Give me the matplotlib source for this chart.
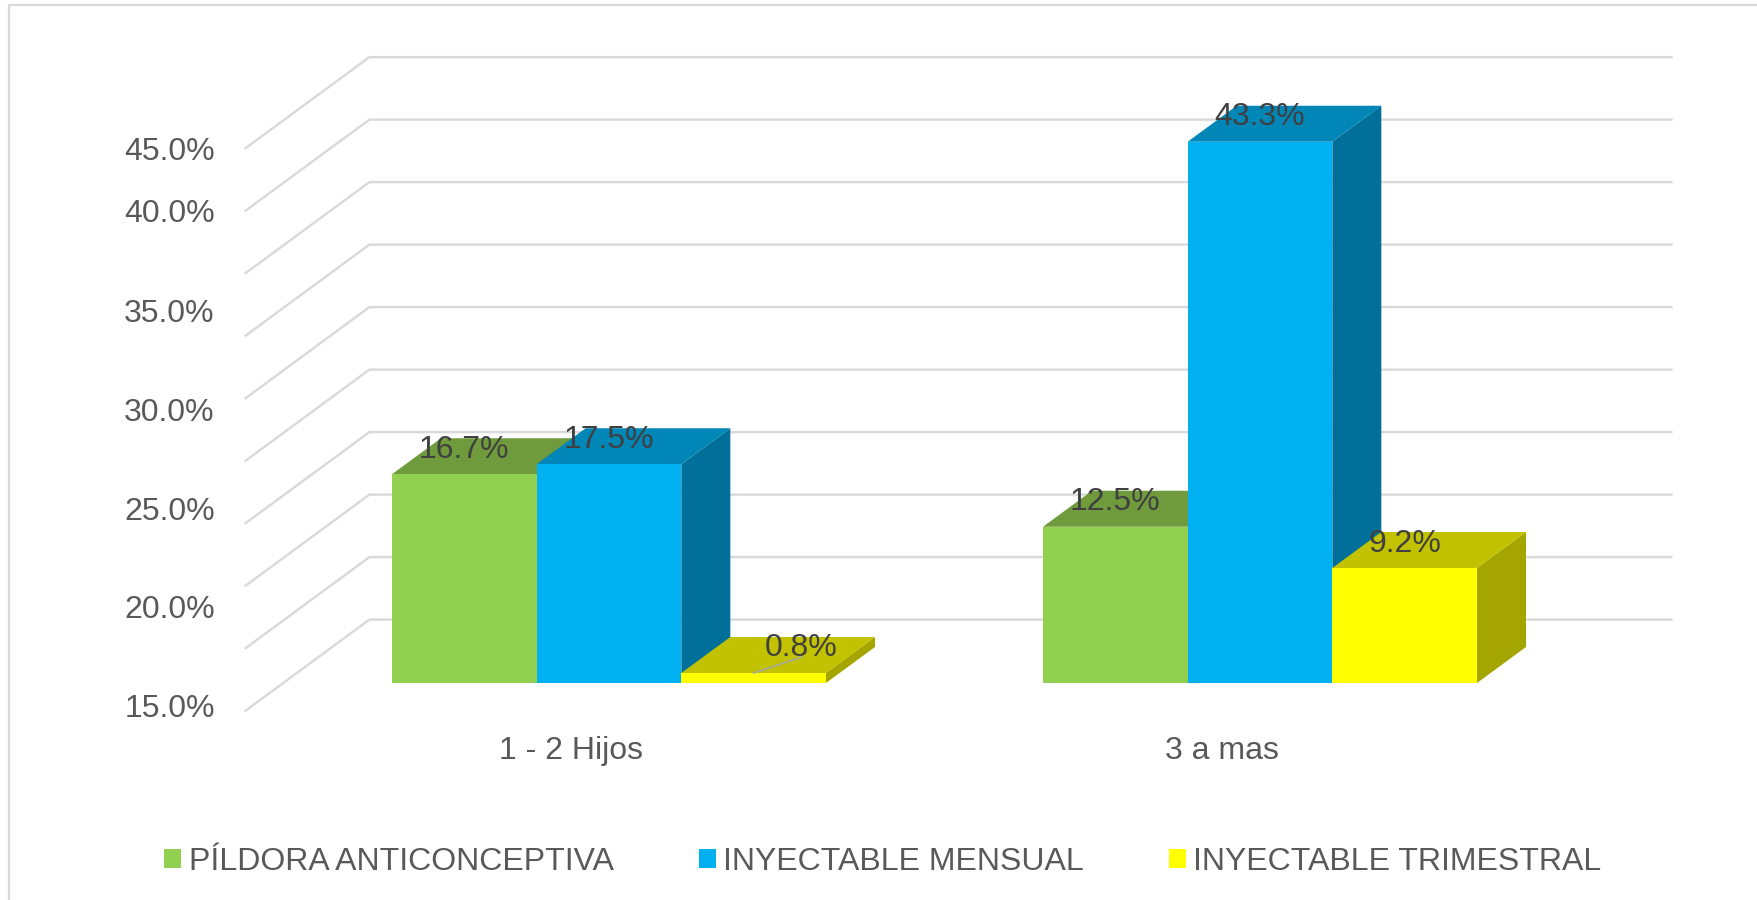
import matplotlib
matplotlib.use('Agg')
import matplotlib.pyplot as plt
from matplotlib.patches import Polygon, Patch, Rectangle

categorias = ['1 - 2 Hijos', '3 a mas']
pildora = [16.7, 12.5]
mensual = [17.5, 43.3]
trimestral = [0.8, 9.2]
series_nombres = ['PÍLDORA ANTICONCEPTIVA', 'INYECTABLE MENSUAL', 'INYECTABLE TRIMESTRAL']
eje_valores = [0, 5, 10, 15, 20, 25, 30, 35, 40, 45]
eje_etiquetas = ['15.0%', '20.0%', '25.0%', '30.0%', '35.0%', '40.0%', '45.0%']

# front, top and side shades of each series
colores = [('#92D050', '#6F9B3C', '#6F9B3C'),
           ('#00B0F0', '#0086B7', '#006F9A'),
           ('#FFFF00', '#C2C200', '#A5A500')]
GRIS = '#D9D9D9'
TEXTO = '#595959'
TEXTO_DATOS = '#404040'

plt.rcParams['font.family'] = ['Liberation Sans', 'DejaVu Sans']
plt.rcParams['font.size'] = 23

W, H = 1758, 900
fig = plt.figure(figsize=(W / 100, H / 100), dpi=100)

# the axes plane is the front face of the bars; everything else is an oblique offset
PX_X = 651.0     # pixels per category
PX_Y = 12.5      # pixels per percentage point
base_y = 683.0
frente_x, frente_y = -37.8 / PX_X, -27.6 / PX_Y
fondo_x, fondo_y = 85.9 / PX_X, 63.4 / PX_Y
prof_x, prof_y = 49.0 / PX_X, 36.0 / PX_Y

ax = fig.add_axes([283.5 / W, (H - base_y - 27.6) / H, 2 * PX_X / W, (45 * PX_Y + 27.6) / H])
ax.set_xlim(-0.5, 1.5)
ax.set_ylim(frente_y, 45)
for lado in ax.spines.values():
    lado.set_visible(False)

# outer frame, open on the right and at the bottom
fig.add_artist(plt.Line2D([9 / W, 9 / W, 1], [0, 1 - 5 / H, 1 - 5 / H], color=GRIS, lw=1.6))

# floor-to-wall gridlines
for v in eje_valores:
    ax.plot([-0.5 + frente_x, -0.5 + fondo_x, 1.5 + fondo_x],
            [v + frente_y, v + fondo_y, v + fondo_y],
            color=GRIS, lw=1.7, clip_on=False, zorder=1, solid_joinstyle='miter')

# oblique bars, left to right so each one overlaps the previous side face
ancho = 1 / 4.5
series = [pildora, mensual, trimestral]
for c in range(len(categorias)):
    for s, valores in enumerate(series):
        x0 = c + (s - 1.5) * ancho
        x1 = x0 + ancho
        v = valores[c]
        frente, arriba, lado = colores[s]
        ax.add_patch(Polygon([(x1, 0), (x1 + prof_x, prof_y), (x1 + prof_x, v + prof_y), (x1, v)],
                             fc=lado, ec='none', clip_on=False, zorder=2))
        ax.add_patch(Polygon([(x0, v), (x0 + prof_x, v + prof_y), (x1 + prof_x, v + prof_y), (x1, v)],
                             fc=arriba, ec='none', clip_on=False, zorder=2))
        ax.add_patch(Rectangle((x0, 0), ancho, v, fc=frente, ec='none', clip_on=False, zorder=2))

# value labels sit above the front edge of each bar
for c in range(len(categorias)):
    for s, valores in enumerate(series):
        v = valores[c]
        xc = c + (s - 1) * ancho
        dx = 0
        if v < 1:
            # the smallest label is pulled aside with a leader line
            dx = 47.5
            ax.plot([xc, xc + 48 / PX_X], [v, v + 16 / PX_Y], color='#A6A6A6', lw=1.2, zorder=3)
        ax.annotate(f'{v:.1f}%', (xc, v), xytext=(dx * 0.72, 24.5 * 0.72), textcoords='offset points',
                    ha='center', va='center', color=TEXTO_DATOS, zorder=4)

# tick labels are not evenly spaced on this axis
marcas = [0.4, 8.3, 16.2, 24.1, 32.0, 40.0, 45]
ax.set_yticks([m + frente_y for m in marcas], eje_etiquetas, color=TEXTO)
ax.set_xticks([c + frente_x for c in range(len(categorias))], categorias, color=TEXTO)
ax.tick_params(axis='y', length=0, pad=49.5)
ax.tick_params(axis='x', length=0, pad=18)

mano = [Patch(fc=colores[s][0], ec='none', label=series_nombres[s]) for s in range(3)]
fig.legend(handles=mano, loc='center', bbox_to_anchor=(883 / W, 1 - 862 / H), ncol=3, frameon=False,
           handlelength=0.53, handleheight=0.53, handletextpad=0.24, columnspacing=2.65,
           labelcolor=TEXTO, fontsize=23)

fig.savefig('out.png', dpi=100, facecolor='white')
